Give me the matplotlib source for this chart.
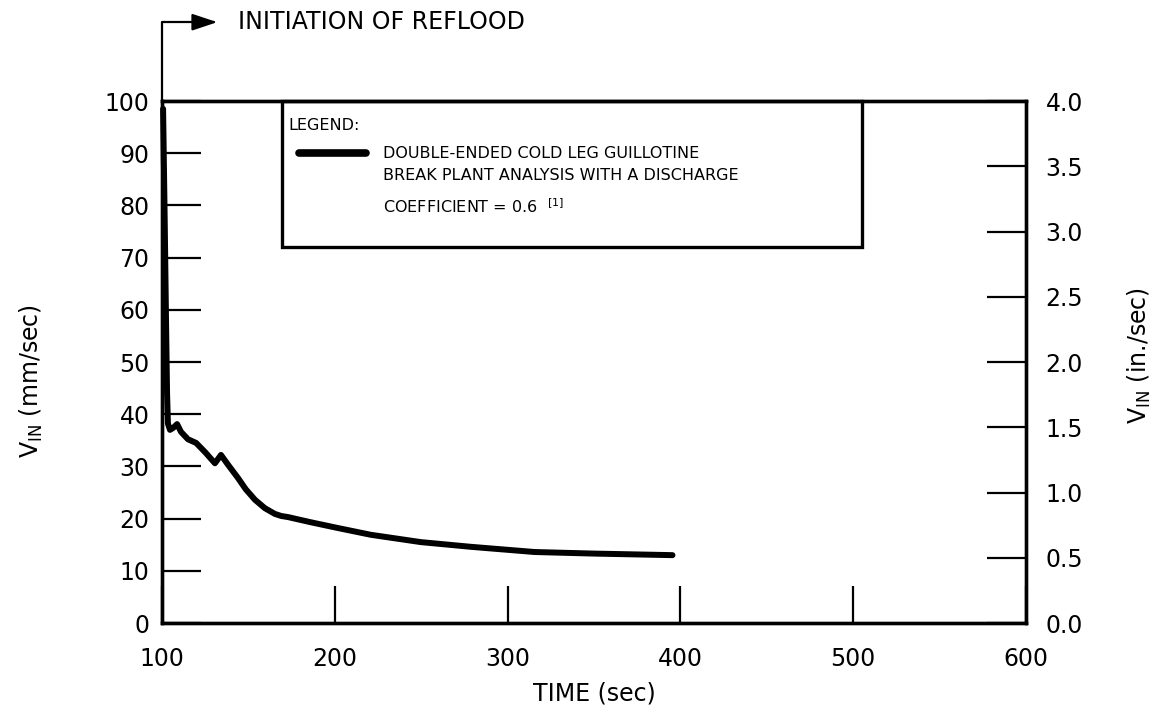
import numpy as np
import matplotlib
matplotlib.use("Agg")
import matplotlib.pyplot as plt
from matplotlib.patches import Rectangle

plt.rcParams['font.family'] = ['DejaVu Sans']
plt.rcParams['mathtext.default'] = 'regular'

# Reflood velocity
time_s = [100.6, 101.5, 102.3, 102.9, 103.4, 104.6, 106.5, 108.7, 111.0, 115.0,
          119.7, 125.0, 130.6, 134.1, 138.0, 143.9, 148.5, 153.8, 159.5, 165.3,
          169.0, 172.8, 186.1, 201.7, 220.8, 249.7, 278.6, 315.6, 350.0, 395.4]
v_in = [98.5, 78.0, 58.0, 44.0, 38.2, 37.0, 37.4, 38.1, 36.6, 35.2,
        34.5, 32.7, 30.6, 32.2, 30.4, 27.8, 25.6, 23.6, 22.0, 20.9,
        20.5, 20.3, 19.3, 18.2, 16.9, 15.5, 14.6, 13.6, 13.3, 13.0]

x_ticks = [100, 200, 300, 400, 500, 600]
y_ticks = [0, 10, 20, 30, 40, 50, 60, 70, 80, 90, 100]
y2_ticks = [0.0, 0.5, 1.0, 1.5, 2.0, 2.5, 3.0, 3.5, 4.0]

legend_title = 'LEGEND:'
legend_lines = ['DOUBLE-ENDED COLD LEG GUILLOTINE',
                'BREAK PLANT ANALYSIS WITH A DISCHARGE',
                'COEFFICIENT = 0.6  $^{[1]}$']

fig = plt.figure(figsize=(11.6, 7.23), dpi=100)
ax = fig.add_axes([0.1397, 0.1383, 0.7448, 0.722])

ax.plot(time_s, v_in, color='black', lw=4.3, solid_joinstyle='round',
        solid_capstyle='round', clip_on=False, zorder=3)

ax.set_xlim(100, 600)
ax.set_ylim(0, 100)
ax.set_xticks(x_ticks)
ax.set_yticks(y_ticks)
ax.tick_params(axis='x', direction='in', length=27, width=1.6, labelsize=17, pad=17)
ax.tick_params(axis='y', direction='in', length=28, width=1.6, labelsize=17, pad=9)
for s in ax.spines.values():
    s.set_linewidth(2.4)

ax.set_xlabel('TIME (sec)', fontsize=17, labelpad=8)
ax.set_ylabel('$V_{IN}$ (mm/sec)', fontsize=17)
ax.yaxis.set_label_coords(-0.135, 0.463)

ax2 = ax.twinx()
ax2.set_ylim(0, 4)
ax2.set_yticks(y2_ticks)
ax2.set_yticklabels(['%.1f' % v for v in y2_ticks])
ax2.tick_params(axis='y', direction='in', length=28, width=1.6, labelsize=17, pad=14)
for s in ax2.spines.values():
    s.set_linewidth(2.4)
ax2.set_ylabel('$V_{IN}$ (in./sec)', fontsize=17)
ax2.yaxis.set_label_coords(1.115, 0.513)

# initiation of reflood marker
ax.annotate('INITIATION OF REFLOOD', xy=(100, 100), xycoords='data',
            xytext=(0.088, 1.151), textcoords='axes fraction',
            ha='left', va='center', fontsize=17,
            arrowprops=dict(arrowstyle='<|-,head_length=0.9,head_width=0.3',
                            connectionstyle='angle,angleA=0,angleB=90,rad=0',
                            color='black', lw=1.6, shrinkA=13, shrinkB=0))

# legend box
ax.add_patch(Rectangle((0.139, 0.72), 0.671, 0.28, transform=ax.transAxes,
                       fill=False, edgecolor='black', lw=2.4, clip_on=False, zorder=4))
ax.text(0.146, 0.954, legend_title, transform=ax.transAxes, fontsize=11.5,
        ha='left', va='center')
ax.plot([0.159, 0.236], [0.900, 0.900], transform=ax.transAxes, color='black',
        lw=5.5, solid_capstyle='round', clip_on=False)
for txt, yy in zip(legend_lines, [0.900, 0.858, 0.797]):
    ax.text(0.256, yy, txt, transform=ax.transAxes, fontsize=11.5,
            ha='left', va='center')

fig.savefig('out.png', dpi=100)
